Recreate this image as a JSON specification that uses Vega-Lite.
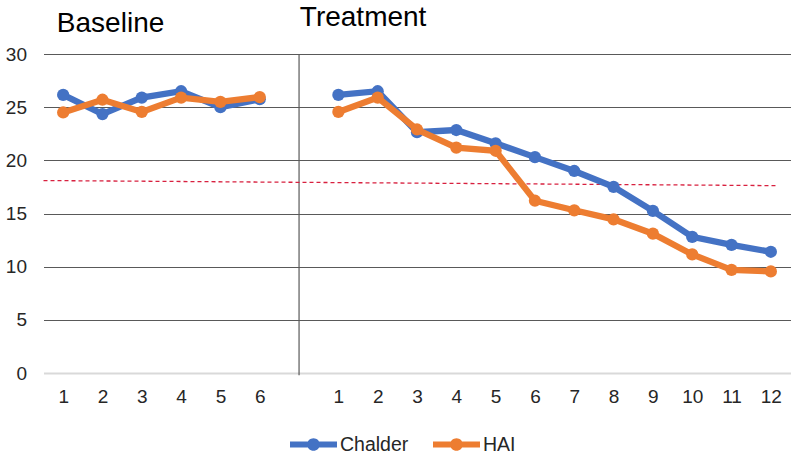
{
  "$schema": "https://vega.github.io/schema/vega-lite/v6.json",
  "width": 747,
  "height": 319,
  "autosize": {"type": "none"},
  "padding": {"left": 43.5, "top": 54, "right": 4.5, "bottom": 84},
  "config": {
    "view": {"stroke": null},
    "font": "Liberation Sans"
  },
  "datasets": {
    "scores": [
      {"series": "Chalder", "phase": "Baseline", "x": 1, "value": 26.15},
      {"series": "Chalder", "phase": "Baseline", "x": 2, "value": 24.35},
      {"series": "Chalder", "phase": "Baseline", "x": 3, "value": 25.9},
      {"series": "Chalder", "phase": "Baseline", "x": 4, "value": 26.5},
      {"series": "Chalder", "phase": "Baseline", "x": 5, "value": 25.0},
      {"series": "Chalder", "phase": "Baseline", "x": 6, "value": 25.75},
      {"series": "Chalder", "phase": "Treatment", "x": 8, "value": 26.15},
      {"series": "Chalder", "phase": "Treatment", "x": 9, "value": 26.5},
      {"series": "Chalder", "phase": "Treatment", "x": 10, "value": 22.65},
      {"series": "Chalder", "phase": "Treatment", "x": 11, "value": 22.85},
      {"series": "Chalder", "phase": "Treatment", "x": 12, "value": 21.6},
      {"series": "Chalder", "phase": "Treatment", "x": 13, "value": 20.3},
      {"series": "Chalder", "phase": "Treatment", "x": 14, "value": 19.0},
      {"series": "Chalder", "phase": "Treatment", "x": 15, "value": 17.5},
      {"series": "Chalder", "phase": "Treatment", "x": 16, "value": 15.25},
      {"series": "Chalder", "phase": "Treatment", "x": 17, "value": 12.8},
      {"series": "Chalder", "phase": "Treatment", "x": 18, "value": 12.05},
      {"series": "Chalder", "phase": "Treatment", "x": 19, "value": 11.4},
      {"series": "HAI", "phase": "Baseline", "x": 1, "value": 24.5},
      {"series": "HAI", "phase": "Baseline", "x": 2, "value": 25.7},
      {"series": "HAI", "phase": "Baseline", "x": 3, "value": 24.55},
      {"series": "HAI", "phase": "Baseline", "x": 4, "value": 25.9},
      {"series": "HAI", "phase": "Baseline", "x": 5, "value": 25.5},
      {"series": "HAI", "phase": "Baseline", "x": 6, "value": 25.95},
      {"series": "HAI", "phase": "Treatment", "x": 8, "value": 24.55},
      {"series": "HAI", "phase": "Treatment", "x": 9, "value": 25.9},
      {"series": "HAI", "phase": "Treatment", "x": 10, "value": 22.9},
      {"series": "HAI", "phase": "Treatment", "x": 11, "value": 21.2},
      {"series": "HAI", "phase": "Treatment", "x": 12, "value": 20.9},
      {"series": "HAI", "phase": "Treatment", "x": 13, "value": 16.2},
      {"series": "HAI", "phase": "Treatment", "x": 14, "value": 15.3},
      {"series": "HAI", "phase": "Treatment", "x": 15, "value": 14.45},
      {"series": "HAI", "phase": "Treatment", "x": 16, "value": 13.1},
      {"series": "HAI", "phase": "Treatment", "x": 17, "value": 11.15},
      {"series": "HAI", "phase": "Treatment", "x": 18, "value": 9.7},
      {"series": "HAI", "phase": "Treatment", "x": 19, "value": 9.55}
    ],
    "cutoff": [
      {"x": 0.5, "value": 18.1},
      {"x": 19.16, "value": 17.62}
    ],
    "divider": [
      {"x": 7, "value": -0.2, "value2": 30}
    ],
    "labels": [
      {"label": "Baseline", "x": 0.84, "value": 32.1},
      {"label": "Treatment", "x": 7.02, "value": 32.64}
    ]
  },
  "encoding": {
    "x": {
      "field": "x",
      "type": "quantitative",
      "scale": {"domain": [0.5, 19.5], "nice": false, "zero": false},
      "axis": {
        "title": null,
        "values": [1, 2, 3, 4, 5, 6, 8, 9, 10, 11, 12, 13, 14, 15, 16, 17, 18, 19],
        "labelExpr": "datum.value <= 6 ? datum.value : datum.value - 7",
        "grid": false,
        "domain": false,
        "ticks": false,
        "tickSize": 0,
        "labelPadding": 14,
        "labelFont": "Liberation Sans",
        "labelFontSize": 19,
        "labelColor": "#262626",
        "labelFlush": false,
        "labelOverlap": false
      }
    },
    "y": {
      "field": "value",
      "type": "quantitative",
      "scale": {"domain": [0, 30], "nice": false, "zero": true},
      "axis": {
        "title": null,
        "values": [0, 5, 10, 15, 20, 25, 30],
        "grid": true,
        "gridColor": {"condition": {"test": "datum.value === 0", "value": "#d9d9d9"}, "value": "#595959"},
        "gridWidth": {"condition": {"test": "datum.value === 0", "value": 2}, "value": 1.2},
        "domain": false,
        "ticks": false,
        "tickSize": 0,
        "labelPadding": 17,
        "labelFont": "Liberation Sans",
        "labelFontSize": 19,
        "labelColor": "#262626",
        "labelFlush": false
      }
    },
    "color": {
      "field": "series",
      "type": "nominal",
      "scale": {"domain": ["Chalder", "HAI"], "range": ["#4472C4", "#ED7D31"]},
      "legend": {
        "orient": "none",
        "legendX": 246.5,
        "legendY": 367,
        "direction": "horizontal",
        "symbolType": "M-1,-0.13H1V0.13H-1Z M0.27,0A0.27,0.27,0,1,1,-0.27,0A0.27,0.27,0,1,1,0.27,0Z",
        "symbolSize": 2209,
        "symbolStrokeWidth": 0,
        "symbolOpacity": 1,
        "labelFont": "Liberation Sans",
        "labelFontSize": 19.5,
        "labelColor": "#262626",
        "labelOffset": 3,
        "columnPadding": 24,
        "title": null
      }
    }
  },
  "layer": [
    {
      "data": {"name": "divider"},
      "mark": {"type": "rule", "color": "#595959", "strokeWidth": 1.2},
      "encoding": {"y2": {"field": "value2"}, "color": null}
    },
    {
      "data": {"name": "cutoff"},
      "mark": {"type": "line", "color": "#d8203f", "strokeWidth": 1.3, "strokeDash": [4, 3]},
      "encoding": {"color": null}
    },
    {
      "data": {"name": "scores"},
      "transform": [{"filter": "datum.series === 'Chalder'"}],
      "mark": {"type": "line", "strokeWidth": 6.3},
      "encoding": {"detail": {"field": "phase"}}
    },
    {
      "data": {"name": "scores"},
      "transform": [{"filter": "datum.series === 'Chalder'"}],
      "mark": {"type": "point", "filled": true, "size": 150, "opacity": 1},
      "encoding": {}
    },
    {
      "data": {"name": "scores"},
      "transform": [{"filter": "datum.series === 'HAI'"}],
      "mark": {"type": "line", "strokeWidth": 6.3},
      "encoding": {"detail": {"field": "phase"}}
    },
    {
      "data": {"name": "scores"},
      "transform": [{"filter": "datum.series === 'HAI'"}],
      "mark": {"type": "point", "filled": true, "size": 150, "opacity": 1},
      "encoding": {}
    },
    {
      "data": {"name": "labels"},
      "mark": {"type": "text", "align": "left", "baseline": "alphabetic", "font": "Liberation Sans", "fontSize": 28, "color": "#000000"},
      "encoding": {"text": {"field": "label"}, "color": null}
    }
  ]
}
